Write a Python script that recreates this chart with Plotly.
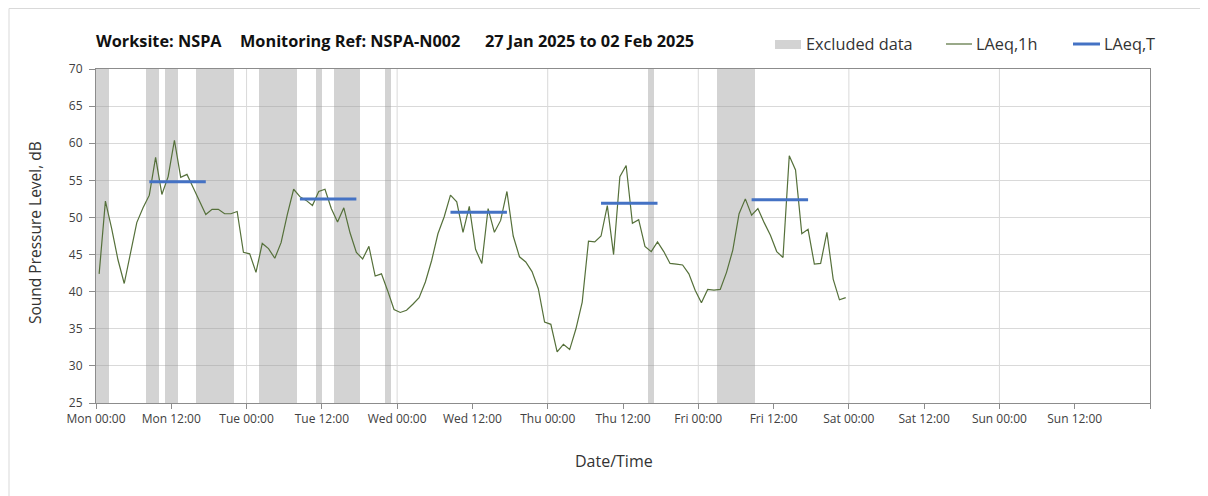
import pandas as pd
import plotly.graph_objects as go

# ---------------- data ----------------
laeq_1h_start = "2025-01-27 00:30"
laeq_1h = [
    # Mon
    42.4, 52.2, 48.5, 44.3, 41.1, 45.2, 49.3, 51.3, 53.0, 58.1, 53.1, 55.5,
    60.4, 55.4, 55.8, 54.0, 52.2, 50.4, 51.1, 51.1, 50.5, 50.5, 50.8, 45.3,
    # Tue
    45.1, 42.6, 46.5, 45.8, 44.5, 46.6, 50.4, 53.8, 52.8, 52.3, 51.6, 53.5,
    53.8, 51.2, 49.4, 51.3, 47.9, 45.3, 44.4, 46.1, 42.1, 42.4, 40.1, 37.6,
    # Wed
    37.2, 37.5, 38.3, 39.2, 41.3, 44.2, 47.8, 50.1, 53.0, 52.1, 48.0, 51.5,
    45.7, 43.8, 51.2, 48.0, 49.6, 53.5, 47.5, 44.7, 44.0, 42.7, 40.4, 35.9,
    # Thu
    35.6, 31.9, 32.9, 32.2, 35.0, 38.6, 46.8, 46.7, 47.5, 51.6, 45.0, 55.5,
    57.0, 49.2, 49.7, 46.1, 45.4, 46.7, 45.4, 43.8, 43.7, 43.6, 42.4, 40.2,
    # Fri
    38.5, 40.3, 40.2, 40.3, 42.6, 45.6, 50.5, 52.5, 50.3, 51.2, 49.3, 47.6,
    45.4, 44.6, 58.3, 56.4, 47.8, 48.4, 43.7, 43.8, 48.0, 41.7, 38.9, 39.2,
]

laeq_t_start = ["2025-01-27 08:30", "2025-01-28 08:30", "2025-01-29 08:30",
                "2025-01-30 08:30", "2025-01-31 08:30"]
laeq_t_end = ["2025-01-27 17:30", "2025-01-28 17:30", "2025-01-29 17:30",
              "2025-01-30 17:30", "2025-01-31 17:30"]
laeq_t = [54.8, 52.5, 50.7, 51.9, 52.4]

excluded_start = ["2025-01-27 00:00", "2025-01-27 08:00", "2025-01-27 11:00",
                  "2025-01-27 16:00", "2025-01-28 02:00", "2025-01-28 11:00",
                  "2025-01-28 14:00", "2025-01-28 22:00", "2025-01-30 16:00",
                  "2025-01-31 03:00"]
excluded_end = ["2025-01-27 02:00", "2025-01-27 10:00", "2025-01-27 13:00",
                "2025-01-27 22:00", "2025-01-28 08:00", "2025-01-28 12:00",
                "2025-01-28 18:00", "2025-01-28 23:00", "2025-01-30 17:00",
                "2025-01-31 09:00"]

x_tick_labels = ["Mon 00:00", "Mon 12:00", "Tue 00:00", "Tue 12:00",
                 "Wed 00:00", "Wed 12:00", "Thu 00:00", "Thu 12:00",
                 "Fri 00:00", "Fri 12:00", "Sat 00:00", "Sat 12:00",
                 "Sun 00:00", "Sun 12:00", ""]
axis_start = "2025-01-27 00:00"
axis_end = "2025-02-03 00:00"
y_min, y_max = 25, 70

title_parts = ["Worksite: NSPA", "Monitoring Ref: NSPA-N002",
               "27 Jan 2025 to 02 Feb 2025"]

# ---------------- build ----------------
# page is rendered with an 8px body margin; positions below are page pixels
OFF = 8
W, H = 1208 - OFF, 496 - OFF
PLOT_L, PLOT_R, PLOT_T, PLOT_B = 96, 1150, 69, 403
L, T = PLOT_L - OFF, PLOT_T - OFF
R, B = W - (PLOT_R - OFF), H - (PLOT_B - OFF)
PW, PH = PLOT_R - PLOT_L, PLOT_B - PLOT_T


def px(xp):
    return (xp - PLOT_L) / PW


def py(yp):
    return (PLOT_B - yp) / PH


times_1h = pd.date_range(laeq_1h_start, periods=len(laeq_1h), freq="h")
ex_s = pd.to_datetime(excluded_start)
ex_e = pd.to_datetime(excluded_end)
ex_mid = ex_s + (ex_e - ex_s) / 2
ex_w = [(e - s).total_seconds() * 1000 for s, e in zip(ex_s, ex_e)]

tx, ty = [], []
for s, e, v in zip(laeq_t_start, laeq_t_end, laeq_t):
    tx += [pd.Timestamp(s), pd.Timestamp(e), None]
    ty += [v, v, None]

tickvals = pd.date_range(axis_start, axis_end, freq="12h")
day_lines = pd.date_range(axis_start, axis_end, freq="D")[1:-1]

FONT = "Open Sans"
GRID = "#d9d9d9"
AXIS = "#8c8c8c"
GREEN = "#55703A"
BLUE = "#4472C4"
BAND = "rgba(150,150,150,0.42)"

fig = go.Figure()
fig.add_trace(go.Bar(x=ex_mid, y=[y_max - y_min] * len(ex_mid), base=y_min,
                     width=ex_w, marker=dict(color=BAND, line=dict(width=0)),
                     name="Excluded data", showlegend=False, hoverinfo="skip"))
fig.add_trace(go.Scatter(x=times_1h, y=laeq_1h, mode="lines",
                         line=dict(color=GREEN, width=1.2),
                         name="LAeq,1h", showlegend=False))
fig.add_trace(go.Scatter(x=tx, y=ty, mode="lines",
                         line=dict(color=BLUE, width=3),
                         name="LAeq,T", showlegend=False))

shapes = []
for d in day_lines:
    shapes.append(dict(type="line", xref="x", yref="y domain", x0=d, x1=d,
                       y0=0, y1=1, line=dict(color=GRID, width=1), layer="below"))
# outer chart frame
shapes.append(dict(type="rect", xref="paper", yref="paper", x0=px(9), x1=px(1260),
                   y0=py(560), y1=py(8.5), line=dict(color="#d9d9d9", width=1),
                   fillcolor="rgba(0,0,0,0)", layer="below"))
# legend symbols
shapes.append(dict(type="rect", xref="paper", yref="paper", x0=px(775), x1=px(801),
                   y0=py(49), y1=py(40), line=dict(width=0), fillcolor="#d3d3d3"))
shapes.append(dict(type="line", xref="paper", yref="paper", x0=px(946), x1=px(972),
                   y0=py(44), y1=py(44), line=dict(color=GREEN, width=1.2)))
shapes.append(dict(type="line", xref="paper", yref="paper", x0=px(1073), x1=px(1100),
                   y0=py(44), y1=py(44), line=dict(color=BLUE, width=3)))

ann = []
for txt, xp in zip(title_parts, [94, 238, 483]):
    ann.append(dict(text="<b>%s</b>" % txt, xref="paper", yref="paper", x=px(xp),
                    y=py(41), xanchor="left", yanchor="middle", showarrow=False,
                    font=dict(family=FONT, size=16.3, color="#111111")))
for txt, xp in zip(["Excluded data", "LAeq,1h", "LAeq,T"], [804, 974, 1102]):
    ann.append(dict(text=txt, xref="paper", yref="paper", x=px(xp), y=py(44),
                    xanchor="left", yanchor="middle", showarrow=False,
                    font=dict(family=FONT, size=16.3, color="#333333")))
ann.append(dict(text="Sound Pressure Level, dB", xref="paper", yref="paper",
                x=px(35), y=py(233), xanchor="center", yanchor="middle",
                textangle=-90, showarrow=False,
                font=dict(family=FONT, size=15.5, color="#333333")))
ann.append(dict(text="Date/Time", xref="paper", yref="paper", x=px(614), y=py(461),
                xanchor="center", yanchor="middle", showarrow=False,
                font=dict(family=FONT, size=16, color="#333333")))

fig.update_layout(
    width=W, height=H,
    margin=dict(l=L, r=R, t=T, b=B, pad=0),
    paper_bgcolor="white", plot_bgcolor="white",
    font=dict(family=FONT, size=12, color="#404040"),
    showlegend=False, bargap=0,
    shapes=shapes, annotations=ann,
    xaxis=dict(type="date", range=[axis_start, axis_end], tickmode="array",
               tickvals=tickvals, ticktext=x_tick_labels, ticks="outside",
               ticklen=5, tickcolor=AXIS, showgrid=False, showline=True,
               linecolor=AXIS, linewidth=1, mirror=True, zeroline=False,
               tickfont=dict(size=12, color="#404040")),
    yaxis=dict(range=[y_min, y_max], tick0=y_min, dtick=5, ticks="outside",
               ticklen=6, tickcolor=AXIS, showgrid=True, gridcolor=GRID,
               gridwidth=1, showline=True, linecolor=AXIS, linewidth=1,
               mirror=True, zeroline=False, ticklabelstandoff=4,
               tickfont=dict(size=12, color="#404040")),
)

fig.write_html("out.html")
